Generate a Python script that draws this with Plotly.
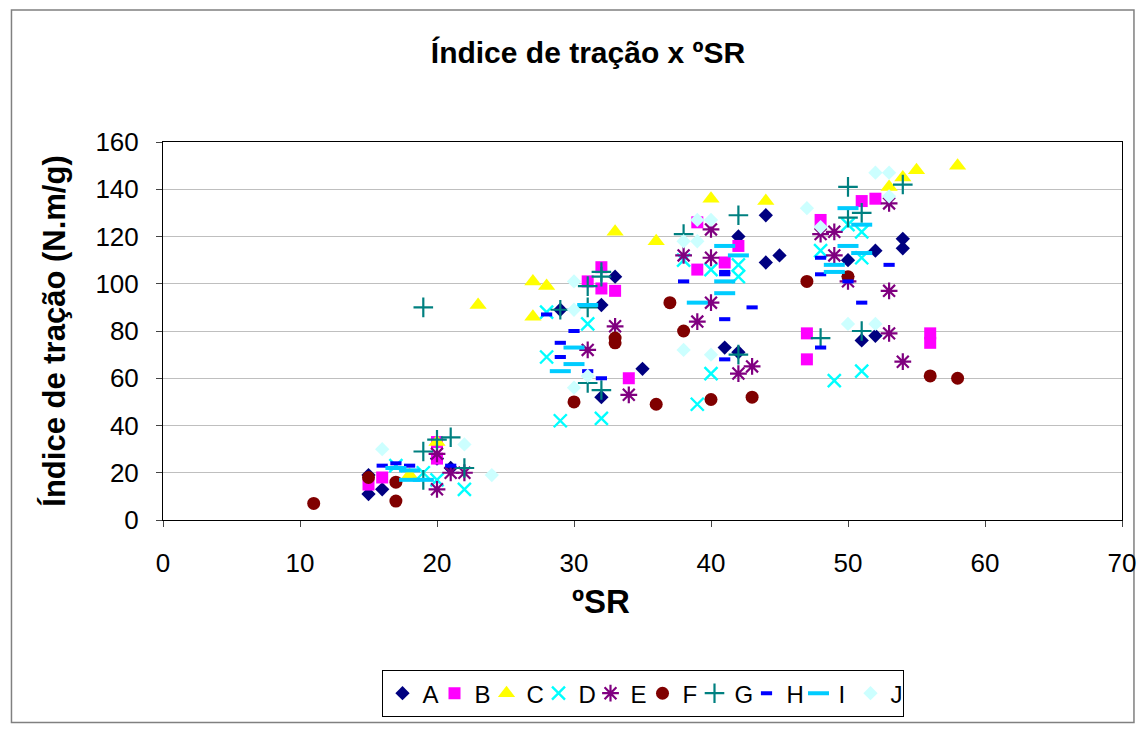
import plotly.graph_objects as go

# ---- data ----
A_x = [15, 15, 16, 20, 21, 29, 32, 33, 32, 35, 41, 42, 42, 44, 44, 45, 50, 51, 52, 52, 54, 54]
A_y = [19, 11, 13, 26, 22, 89, 91, 103, 52, 64, 73, 71, 120, 129, 109, 112, 110, 76, 78, 114, 119, 115]

B_x = [15, 16, 20, 20, 31, 32, 32, 33, 34, 39, 39, 41, 42, 47, 47, 48, 51, 52, 56, 56]
B_y = [15, 18, 33, 26, 101, 107, 98, 97, 60, 126, 106, 109, 116, 79, 68, 127, 135, 136, 79, 75]

C_x = [18, 20, 23, 27, 28, 27, 33, 36, 40, 44, 53, 54, 55, 58]
C_y = [19, 33, 91, 101, 99, 86, 122, 118, 136, 135, 141, 145, 148, 150]

D_x = [17, 19, 20, 22, 28, 29, 28, 31, 32, 38, 40, 42, 42, 40, 39, 48, 50, 51, 51, 49, 51]
D_y = [23, 20, 17, 13, 69, 42, 88, 83, 43, 110, 106, 108, 103, 62, 49, 114, 125, 122, 111, 59, 63]

E_x = [20, 21, 22, 20, 31, 33, 34, 38, 40, 40, 39, 40, 42, 43, 48, 49, 50, 49, 53, 53, 54, 53]
E_y = [13, 20, 20, 28, 72, 82, 53, 112, 123, 111, 84, 92, 62, 65, 121, 122, 101, 112, 97, 79, 67, 134]

F_x = [11, 15, 17, 17, 30, 33, 33, 36, 37, 38, 40, 43, 47, 50, 56, 58]
F_y = [7, 18, 16, 8, 50, 77, 75, 49, 92, 80, 51, 52, 101, 103, 61, 60]

G_x = [19, 19, 19, 20, 21, 22, 29, 32, 32, 31, 31, 31, 32, 38, 42, 42, 48, 51, 50, 50, 51, 54]
G_y = [90, 29, 17, 34, 35, 22, 89, 105, 103, 99, 90, 58, 55, 121, 129, 70, 77, 80, 141, 128, 130, 142]

H_x = [16, 17, 18, 21, 28, 30, 29, 29, 31, 32, 38, 41, 41, 43, 41, 41, 48, 48, 50, 51, 53, 48]
H_y = [23, 24, 23, 23, 87, 80, 75, 69, 63, 60, 101, 105, 104, 90, 85, 68, 111, 104, 101, 92, 108, 73]

I_x = [17, 18, 18, 19, 30, 30, 29, 31, 41, 41, 42, 41, 39, 50, 51, 50, 49, 49, 51]
I_y = [22, 21, 17, 17, 73, 66, 63, 91, 116, 101, 112, 96, 92, 132, 125, 116, 108, 105, 113]

J_x = [16, 22, 24, 30, 30, 30, 31, 39, 40, 38, 39, 38, 40, 47, 48, 52, 53, 53, 50, 52]
J_y = [30, 32, 19, 101, 89, 56, 61, 127, 127, 118, 118, 72, 70, 132, 124, 147, 147, 137, 83, 83]

x_ticks = [0, 10, 20, 30, 40, 50, 60, 70]
y_ticks = [0, 20, 40, 60, 80, 100, 120, 140, 160]

FONT = "Liberation Sans, Arial, sans-serif"

series = [
    ("A", A_x, A_y, dict(symbol="diamond", size=11, color="#000080")),
    ("B", B_x, B_y, dict(symbol="square", size=12, color="#FF00FF")),
    ("C", C_x, C_y, dict(symbol="triangle-up", size=15, color="#FFFF00")),
    ("D", D_x, D_y, dict(symbol="x-thin-open", size=13, color="#00FFFF", line=dict(width=2.4, color="#00FFFF"))),
    ("E", E_x, E_y, dict(symbol="asterisk-open", size=14, color="#800080", line=dict(width=2.2, color="#800080"))),
    ("F", F_x, F_y, dict(symbol="circle", size=13, color="#800000")),
    ("G", G_x, G_y, dict(symbol="cross-thin-open", size=14, color="#008080", line=dict(width=2.2, color="#008080"))),
    ("H", H_x, H_y, dict(symbol="line-ew-open", size=8, color="#0000FF", line=dict(width=4, color="#0000FF"))),
    ("I", I_x, I_y, dict(symbol="line-ew-open", size=15, color="#00CCFF", line=dict(width=4, color="#00CCFF"))),
    ("J", J_x, J_y, dict(symbol="diamond", size=11, color="#CCFFFF")),
]

fig = go.Figure()
for name, xs, ys, mk in series:
    fig.add_trace(go.Scatter(x=xs, y=ys, mode="markers", name=name, marker=mk))

# page is offset by the 8px body margin, so figure coords = page coords - 8
OFF = 8
W, H = 1148 - OFF, 729 - OFF
L = 163 - OFF
T = 142 - OFF
R = W - (1125 - OFF)
B = H - (523 - OFF)
pw = W - L - R
ph = H - T - B

def px2paper_x(px):
    return (px - OFF - L) / pw

def px2paper_y(py):
    return (H - B - (py - OFF)) / ph

fig.update_layout(
    width=W, height=H,
    margin=dict(l=L, r=R, t=T, b=B),
    paper_bgcolor="white", plot_bgcolor="white",
    font=dict(family=FONT, size=26, color="black"),
    title=dict(text="<b>Índice de tração x ºSR</b>", x=(588 - OFF) / W, xanchor="center",
               y=1 - (52 - OFF) / H, yanchor="middle", font=dict(size=30, family=FONT)),
    showlegend=True,
    legend=dict(orientation="h", x=px2paper_x(644), xanchor="center",
                y=px2paper_y(698), yanchor="middle",
                bordercolor="black", borderwidth=1, bgcolor="white",
                font=dict(size=24, family=FONT), itemwidth=30,
                entrywidth=7, entrywidthmode="pixels",
                tracegroupgap=0),
    shapes=[dict(type="rect", xref="paper", yref="paper",
                 x0=px2paper_x(11), x1=px2paper_x(1137),
                 y0=px2paper_y(727), y1=px2paper_y(9),
                 line=dict(color="#808080", width=1.5), layer="below")],
    annotations=[dict(text="<b>ºSR</b>", xref="paper", yref="paper",
                      x=px2paper_x(602), y=px2paper_y(605),
                      xanchor="center", yanchor="middle", showarrow=False,
                      font=dict(size=33, family=FONT, color="black"))],
)

fig.update_xaxes(range=[0, 70], tickvals=x_ticks, ticks="outside", ticklen=6,
                 ticklabelstandoff=14,
                 showline=True, linecolor="black", linewidth=1, mirror=True,
                 showgrid=False, zeroline=False,
                 tickfont=dict(size=26, family=FONT))
fig.update_yaxes(range=[0, 160], tickvals=y_ticks, ticks="outside", ticklen=6,
                 ticklabelstandoff=12,
                 showline=True, linecolor="black", linewidth=1, mirror=True,
                 showgrid=True, gridcolor="#BFBFBF", gridwidth=1, zeroline=False,
                 tickfont=dict(size=26, family=FONT),
                 title=dict(text="<b>Índice de tração (N.m/g)</b>", font=dict(size=31, family=FONT), standoff=20))

fig.write_html("out.html")
